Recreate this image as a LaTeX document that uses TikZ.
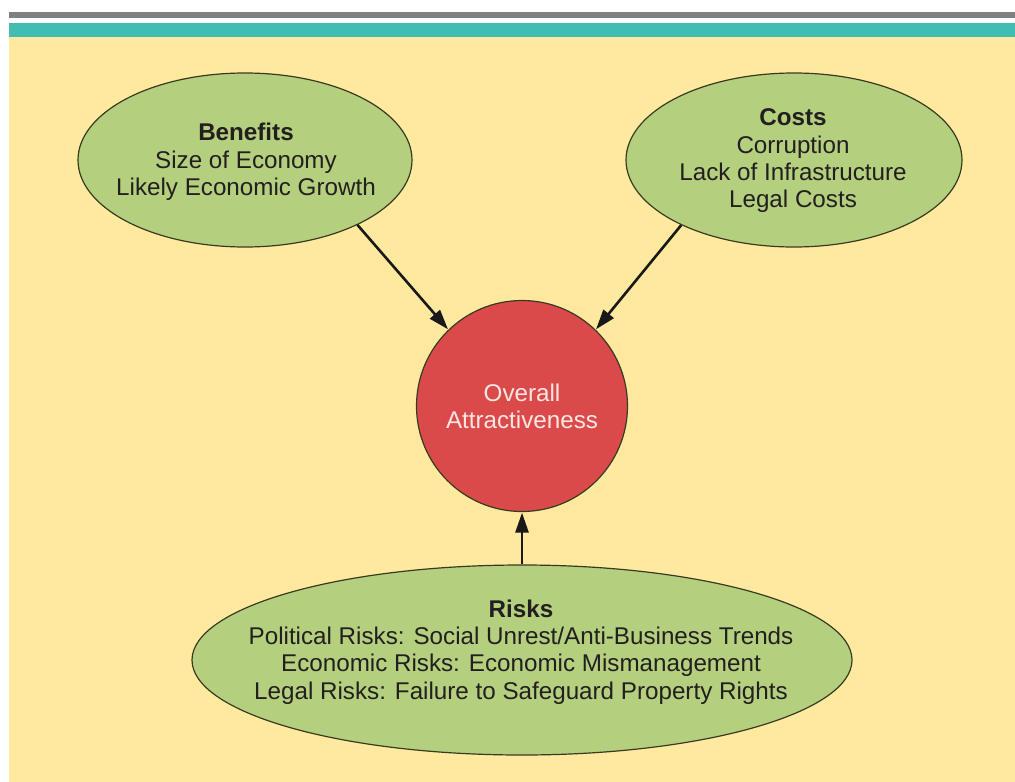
\documentclass[tikz,border=0pt]{standalone}
\usepackage{fontspec}
\setmainfont{Liberation Sans}
\usetikzlibrary{shapes.geometric,arrows.meta}
\definecolor{bgyellow}{HTML}{FEE99F}
\definecolor{barteal}{HTML}{41BDB4}
\definecolor{bargray}{HTML}{808080}
\definecolor{leafgreen}{HTML}{B4CF7E}
\definecolor{outline}{HTML}{3A3A22}
\definecolor{redfill}{HTML}{DA4A4A}
\definecolor{pinktext}{HTML}{FCE6E2}
\definecolor{inktext}{HTML}{231F20}
\tikzset{
  bubble/.style={ellipse,draw=outline,line width=1.2pt,fill=leafgreen,inner sep=0pt},
  bubbletext/.style={align=center,text=inktext,font=\fontsize{24.2}{27.3}\selectfont},
  hub/.style={circle,draw=outline,line width=1.2pt,fill=redfill,inner sep=0pt,minimum size=211pt,
    align=center,text=pinktext,font=\fontsize{24.2}{27.3}\selectfont},
  arr/.style={line width=2.6pt,draw=black!90,-{Triangle[length=20pt,width=13pt]},shorten >=0.5pt}
}
\begin{document}
\begin{tikzpicture}[x=1pt,y=-1pt]
\useasboundingbox (0,0) rectangle (1015,782);
\fill[white] (0,0) rectangle (1015,782);
\fill[bargray] (9,12) rectangle (1015,17.5);
\fill[barteal] (9,23) rectangle (1015,37.3);
\fill[bgyellow] (9,37.3) rectangle (1015,782);

\node[bubble,minimum width=334pt,minimum height=174pt] (ben) at (245,160) {};
\node[bubbletext] (benT) at (246,162) {\textbf{Benefits}\\Size of Economy\\Likely Economic Growth};

\node[bubble,minimum width=336pt,minimum height=174pt] (cost) at (794,160) {};
\node[bubbletext] (costT) at (793,161) {\textbf{Costs}\\Corruption\\Lack of Infrastructure\\Legal Costs};

\node[bubble,minimum width=660pt,minimum height=190pt] (risk) at (522,660) {};
\node[bubbletext] (riskT) at (521,652) {\textbf{Risks}\\Political Risks: Social Unrest/Anti-Business Trends\\Economic Risks: Economic Mismanagement\\Legal Risks: Failure to Safeguard Property Rights};

\node[hub] (att) at (522,406) {Overall\\Attractiveness};

\draw[arr] (ben.-30) -- (att.134);
\draw[arr] (cost.-150) -- (att.46);
\draw[arr] (risk.north) -- (att.south);
\end{tikzpicture}
\end{document}
